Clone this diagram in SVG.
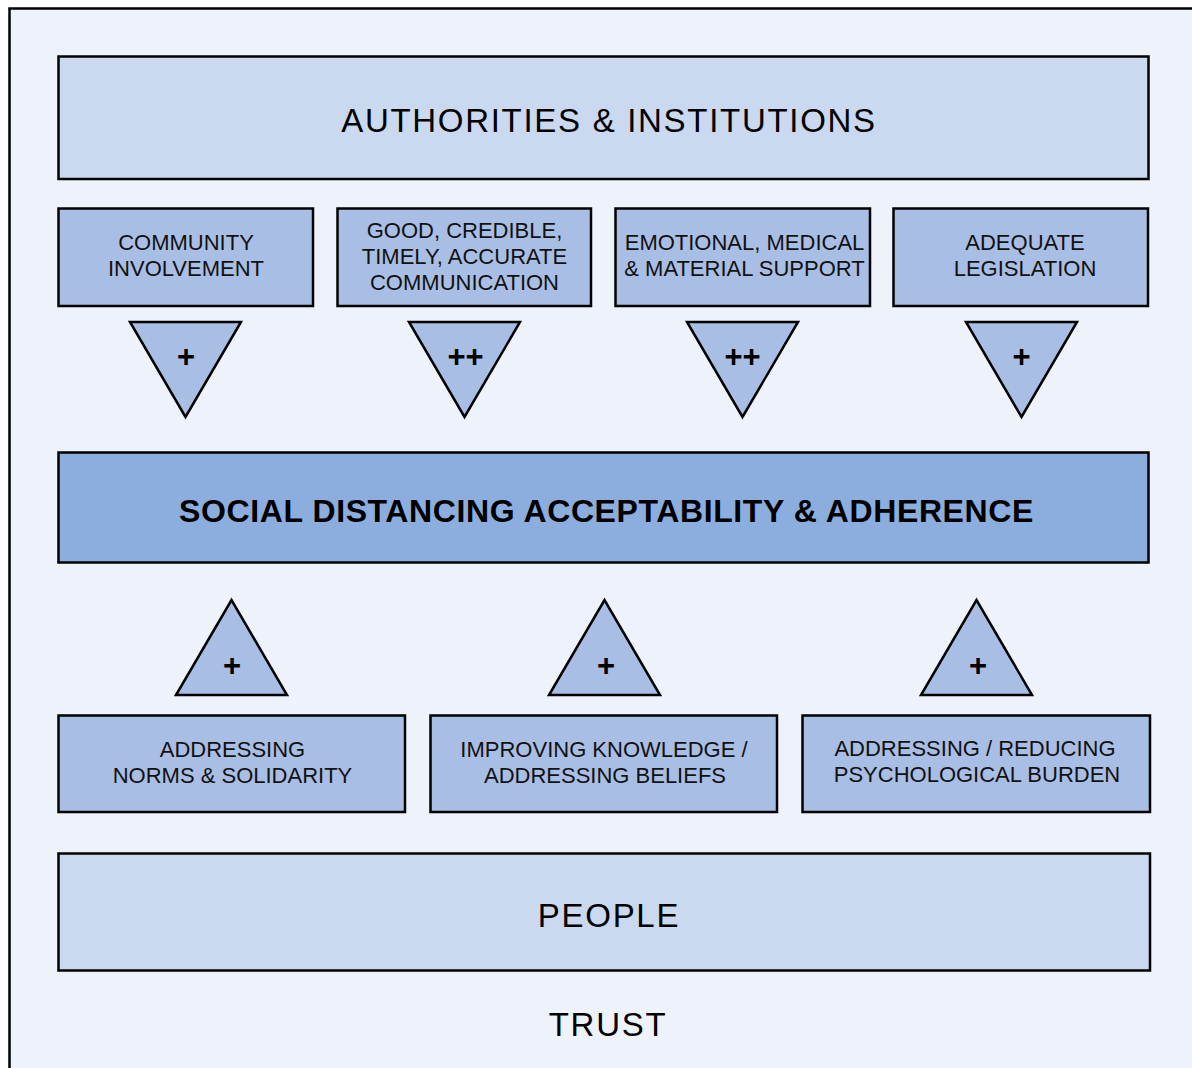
<svg xmlns="http://www.w3.org/2000/svg" width="1192" height="1068" viewBox="0 0 1192 1068">
  <style>
    .frame { fill: #edf2fb; stroke: #000; stroke-width: 2.5; }
    .light { fill: #cad9ef; stroke: #000; stroke-width: 2.5; }
    .mid { fill: #a9bee5; stroke: #000; stroke-width: 2.5; }
    .dark { fill: #8caede; stroke: #000; stroke-width: 2.5; }
    .tri { fill: #a9bee5; stroke: #000; stroke-width: 2.5; stroke-linejoin: miter; }
    .big { font-family: "Liberation Sans", Arial, sans-serif; font-size: 33px; letter-spacing: 1.7px; fill: #000; text-anchor: middle; }
    .bold { font-family: "Liberation Sans", Arial, sans-serif; font-size: 32px; font-weight: bold; letter-spacing: 0.6px; fill: #000; text-anchor: middle; }
    .small { font-family: "Liberation Sans", Arial, sans-serif; font-size: 22px; fill: #111; text-anchor: middle; }
    .sign { font-family: "Liberation Sans", Arial, sans-serif; font-size: 31px; font-weight: bold; fill: #000; text-anchor: middle; }
  </style>

  <rect class="frame" x="9.5" y="8.5" width="1200" height="1100"/>

  <g id="authorities">
    <rect class="light" x="58.5" y="56.5" width="1090" height="122.5"/>
    <text class="big" x="609" y="132">AUTHORITIES &amp; INSTITUTIONS</text>
  </g>

  <g id="community-involvement">
    <rect class="mid" x="58.5" y="208.5" width="254.5" height="97.5"/>
    <text class="small" x="186" y="250">COMMUNITY</text>
    <text class="small" x="186" y="276">INVOLVEMENT</text>
  </g>
  <g id="communication">
    <rect class="mid" x="337.5" y="208.5" width="253.5" height="97.5"/>
    <text class="small" x="464.5" y="238">GOOD, CREDIBLE,</text>
    <text class="small" x="464.5" y="264">TIMELY, ACCURATE</text>
    <text class="small" x="464.5" y="290">COMMUNICATION</text>
  </g>
  <g id="support">
    <rect class="mid" x="615.5" y="208.5" width="254.5" height="97.5"/>
    <text class="small" x="744.5" y="250">EMOTIONAL, MEDICAL</text>
    <text class="small" x="744.5" y="276">&amp; MATERIAL SUPPORT</text>
  </g>
  <g id="legislation">
    <rect class="mid" x="893.5" y="208.5" width="254.5" height="97.5"/>
    <text class="small" x="1025" y="250">ADEQUATE</text>
    <text class="small" x="1025" y="276">LEGISLATION</text>
  </g>

  <g id="adherence">
    <rect class="dark" x="58.5" y="452.5" width="1090" height="110"/>
    <text class="bold" x="606.5" y="521.5">SOCIAL DISTANCING ACCEPTABILITY &amp; ADHERENCE</text>
  </g>

  <g id="norms">
    <rect class="mid" x="58.5" y="715.5" width="346.5" height="96.5"/>
    <text class="small" x="232.5" y="757">ADDRESSING</text>
    <text class="small" x="232.5" y="783">NORMS &amp; SOLIDARITY</text>
  </g>
  <g id="knowledge">
    <rect class="mid" x="430.5" y="715.5" width="346.5" height="96.5"/>
    <text class="small" x="604" y="757">IMPROVING KNOWLEDGE /</text>
    <text class="small" x="605" y="783">ADDRESSING BELIEFS</text>
  </g>
  <g id="burden">
    <rect class="mid" x="802.5" y="715.5" width="347.5" height="96.5"/>
    <text class="small" x="975" y="756">ADDRESSING / REDUCING</text>
    <text class="small" x="977" y="782">PSYCHOLOGICAL BURDEN</text>
  </g>

  <g id="people">
    <rect class="light" x="58.5" y="853.5" width="1091.5" height="117"/>
    <text class="big" x="609" y="927">PEOPLE</text>
  </g>

  <g id="trust">
    <text class="big" x="608" y="1036">TRUST</text>
  </g>

  <g id="connectors">
    <g id="effect-community">
      <polygon class="tri" points="130,322 241,322 185.5,417"/>
      <text class="sign" x="186" y="367">+</text>
    </g>
    <g id="effect-communication">
      <polygon class="tri" points="409,322 520,322 464.5,417"/>
      <text class="sign" x="465.5" y="367">++</text>
    </g>
    <g id="effect-support">
      <polygon class="tri" points="687,322 798,322 742.5,417"/>
      <text class="sign" x="742.5" y="367">++</text>
    </g>
    <g id="effect-legislation">
      <polygon class="tri" points="966,322 1077,322 1021.5,417"/>
      <text class="sign" x="1021.5" y="367">+</text>
    </g>
    <g id="effect-norms">
      <polygon class="tri" points="176,695 287,695 231.5,600"/>
      <text class="sign" x="232" y="676">+</text>
    </g>
    <g id="effect-knowledge">
      <polygon class="tri" points="549,695 660,695 604.5,600"/>
      <text class="sign" x="606" y="676">+</text>
    </g>
    <g id="effect-burden">
      <polygon class="tri" points="921,695 1032,695 976.5,600"/>
      <text class="sign" x="978" y="676">+</text>
    </g>
  </g>
</svg>
